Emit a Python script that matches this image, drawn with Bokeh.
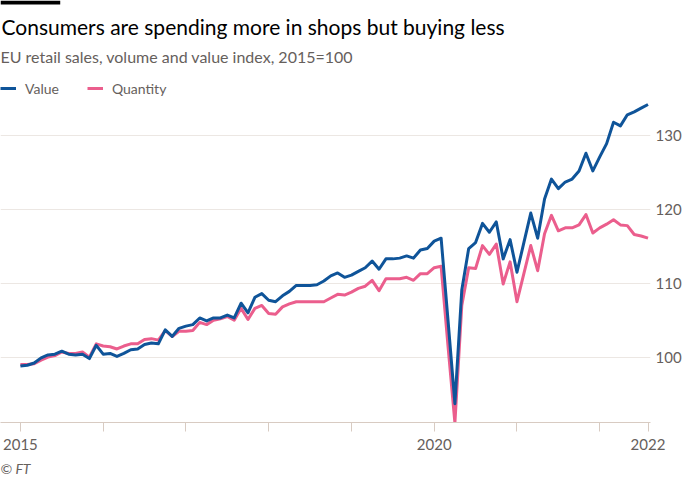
import pandas as pd
from bokeh.plotting import figure
from bokeh.models import (Range1d, FixedTicker, Legend, LegendItem, Label,
                          ColumnDataSource, Title, BoxAnnotation)
from bokeh.embed import file_html
from bokeh.resources import INLINE

# ---------------- data ----------------
months = pd.date_range("2015-01-01", "2022-08-01", freq="MS").strftime("%Y-%m").tolist()

value = [98.8, 98.9, 99.2, 99.9, 100.3, 100.4, 100.8, 100.4, 100.3, 100.4, 99.8, 101.6,
         100.4, 100.5, 100.1, 100.5, 101.0, 101.1, 101.7, 101.9, 101.8, 103.7, 102.8, 103.9,
         104.2, 104.4, 105.3, 104.9, 105.3, 105.3, 105.7, 105.3, 107.3, 106.0, 108.1, 108.6,
         107.7, 107.5, 108.3, 108.9, 109.7, 109.7, 109.7, 109.8, 110.3, 111.0, 111.4, 110.8,
         111.1, 111.6, 112.1, 113.0, 111.9, 113.3, 113.3, 113.4, 113.7, 113.4, 114.5, 114.7,
         115.7, 116.1, 105.0, 93.7, 109.1, 114.7, 115.5, 118.1, 116.9, 118.3, 113.3, 115.9,
         111.5, 115.5, 119.5, 116.1, 121.4, 124.1, 122.8, 123.7, 124.1, 125.2, 127.6, 125.2,
         127.1, 128.9, 131.8, 131.3, 132.8, 133.2, 133.7, 134.2]

quantity = [99.0, 99.0, 99.1, 99.6, 100.0, 100.2, 100.7, 100.5, 100.5, 100.7, 100.0, 101.8,
            101.5, 101.4, 101.1, 101.5, 101.8, 101.8, 102.4, 102.5, 102.3, 103.6, 102.8, 103.5,
            103.5, 103.6, 104.7, 104.4, 105.0, 105.2, 105.5, 105.0, 106.6, 105.1, 106.6, 107.0,
            105.9, 105.8, 106.8, 107.2, 107.5, 107.5, 107.5, 107.5, 107.5, 108.0, 108.5, 108.4,
            108.8, 109.3, 109.6, 110.4, 109.0, 110.6, 110.6, 110.6, 110.8, 110.4, 111.3, 111.3,
            112.1, 112.3, 101.5, 91.1, 107.0, 112.1, 112.0, 115.1, 113.9, 115.3, 109.9, 112.9,
            107.5, 111.3, 115.1, 111.7, 116.7, 119.2, 117.1, 117.5, 117.5, 117.9, 119.3, 116.8,
            117.5, 118.0, 118.6, 117.9, 117.8, 116.6, 116.4, 116.1]

x_ticks = [0, 12, 24, 36, 48, 60, 72, 84, 91]
x_tick_labels = ["2015", "", "", "", "", "2020", "", "", "2022"]
y_ticks = [100, 110, 120, 130]

title_text = "Consumers are spending more in shops but buying less"
subtitle_text = "EU retail sales, volume and value index, 2015=100"
source_text = "\u00a9 FT"

# ---------------- styling / layout (pixels) ----------------
BLUE = "#0f5499"
PINK = "#eb5e8d"
GREY_TEXT = "#66605c"
GRID = "#ece7e3"
BASE = "#d8cbc2"
FONT = "Lato"

W, H = 684, 484
FR, FB = 31, 62                 # right (y labels) and bottom (x labels + source) borders
FRAME_W, FRAME_H = W - FR, H - FB
FIRST_PX, LAST_PX = 20, 650.5   # pixel x of first / last month
GRID_TOP_PX = 135               # pixel y of the top gridline
Y_BASE = 91.15                  # value at the baseline

pxm = (LAST_PX - FIRST_PX) / (len(months) - 1)
X0 = -FIRST_PX / pxm
X1 = X0 + FRAME_W / pxm
pym = (FRAME_H - GRID_TOP_PX) / (y_ticks[-1] - Y_BASE)
Y0 = Y_BASE
Y1 = y_ticks[-1] + GRID_TOP_PX / pym


def px_x(px):
    return X0 + px / pxm


def px_y(py):
    return Y1 - py / pym


src = ColumnDataSource(dict(x=list(range(len(months))), month=months,
                            value=value, quantity=quantity))

p = figure(width=W, height=H, output_backend="svg", toolbar_location=None,
           x_range=Range1d(X0, X1), y_range=Range1d(Y0, Y1),
           y_axis_location="right",
           min_border_left=0, min_border_right=FR,
           min_border_top=0, min_border_bottom=FB)
p.outline_line_color = None
p.background_fill_color = "white"
p.border_fill_color = "white"

# grid
p.xgrid.visible = False
p.ygrid.ticker = FixedTicker(ticks=y_ticks)
p.ygrid.grid_line_color = GRID
p.ygrid.grid_line_width = 1

# y axis (right)
ya = p.yaxis[0]
ya.ticker = FixedTicker(ticks=y_ticks)
ya.axis_line_color = None
ya.major_tick_line_color = None
ya.major_tick_out = 0
ya.major_tick_in = 0
ya.minor_tick_line_color = None
ya.minor_tick_out = 0
ya.major_label_standoff = 5
ya.major_label_text_font = FONT
ya.major_label_text_font_size = "15px"
ya.major_label_text_color = GREY_TEXT

# x axis
xa = p.xaxis[0]
xa.ticker = FixedTicker(ticks=x_ticks)
xa.major_label_overrides = {t: lab for t, lab in zip(x_ticks, x_tick_labels)}
xa.axis_line_color = BASE
xa.major_tick_line_color = BASE
xa.major_tick_out = 9
xa.major_tick_in = 0
xa.minor_tick_line_color = None
xa.minor_tick_out = 0
xa.major_label_standoff = 7
xa.major_label_text_font = FONT
xa.major_label_text_font_size = "15px"
xa.major_label_text_color = GREY_TEXT

# lines
r_q = p.line("x", "quantity", source=src, line_color=PINK, line_width=3, line_join="round")
r_v = p.line("x", "value", source=src, line_color=BLUE, line_width=3, line_join="round")

# legend
legend = Legend(items=[LegendItem(label="Value", renderers=[r_v]),
                       LegendItem(label="Quantity", renderers=[r_q])],
                orientation="horizontal", location=(0, FRAME_H - 98),
                background_fill_alpha=0, border_line_color=None,
                padding=0, margin=0, spacing=28, glyph_width=16, glyph_height=20,
                label_height=20, label_standoff=9,
                label_text_font=FONT, label_text_font_size="14px",
                label_text_color=GREY_TEXT)
p.add_layout(legend)

# header texts
p.add_layout(BoxAnnotation(left=px_x(0), right=px_x(60), top=px_y(0), bottom=px_y(4),
                           fill_color="black", fill_alpha=1, line_color=None))
p.add_layout(Label(x=px_x(1), y=px_y(26), text=title_text, text_baseline="alphabetic",
                   text_font=FONT, text_font_size="21px", text_color="#000000"))
p.add_layout(Label(x=px_x(0), y=px_y(56), text=subtitle_text, text_baseline="alphabetic",
                   text_font=FONT, text_font_size="16px", text_color=GREY_TEXT))

# source note below the x axis
p.add_layout(Title(text=source_text, align="left", offset=0, standoff=10,
                   text_font=FONT, text_font_size="14px", text_font_style="italic",
                   text_color=GREY_TEXT), "below")

open("out.html", "w").write(file_html(p, INLINE))
